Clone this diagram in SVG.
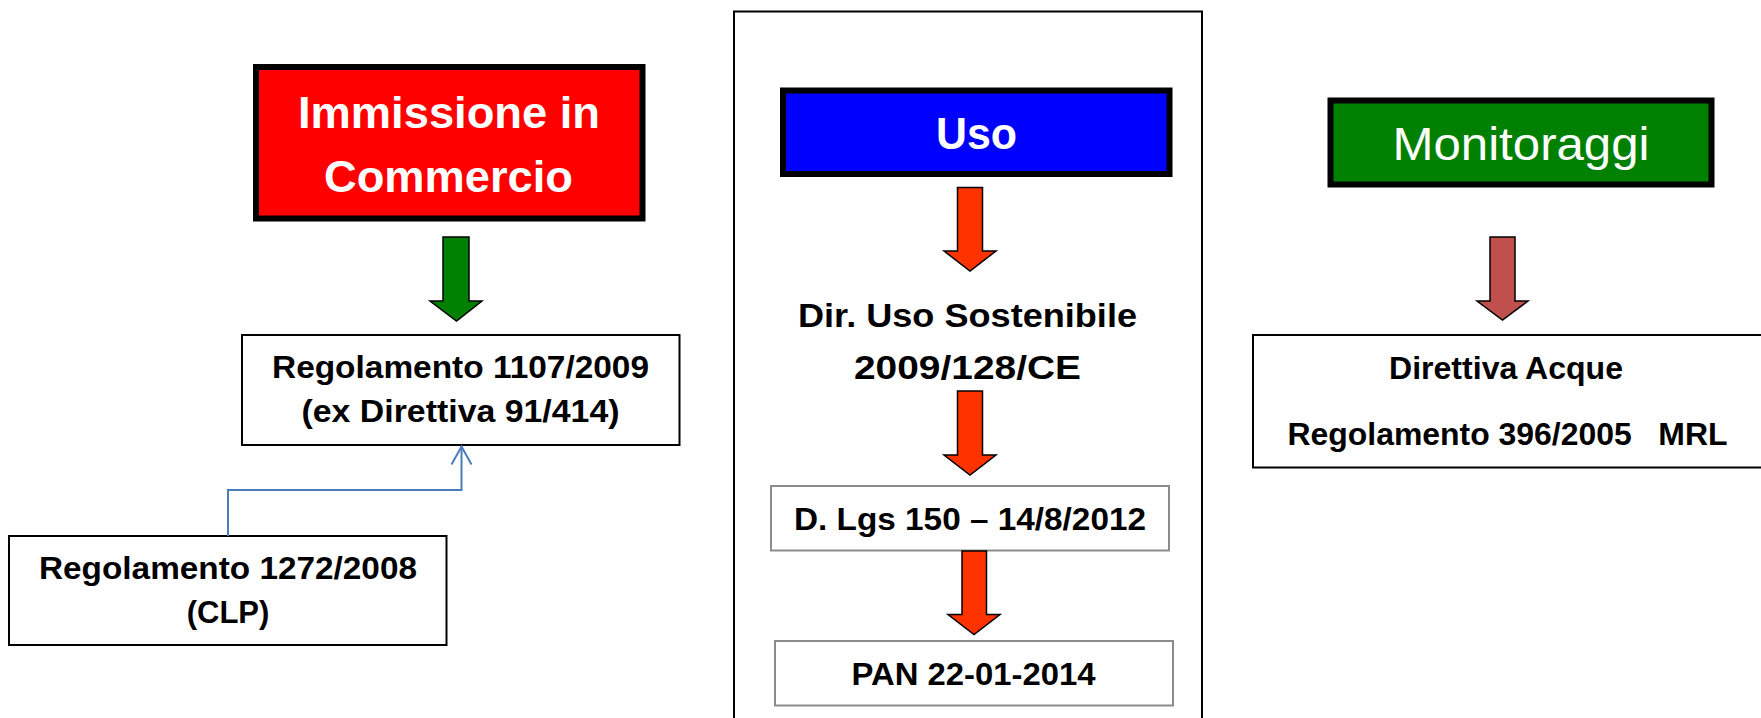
<svg xmlns="http://www.w3.org/2000/svg" width="1761" height="718" viewBox="0 0 1761 718">
<style>
  text { font-family: "Liberation Sans", Arial, sans-serif; text-anchor: middle; }
  .b { font-weight: bold; fill: #000; font-size: 31px; }
  .hdr { font-weight: bold; fill: #fff; font-size: 45px; }
  .hdrr { fill: #fff; font-size: 46px; }
  .thick { stroke: #000; stroke-width: 6; }
  .box { fill: #fff; stroke: #000; stroke-width: 2; }
  .gbox { fill: #fff; stroke: #8c8c8c; stroke-width: 2; }
  .arrow { stroke: #000; stroke-width: 1.5; stroke-linejoin: miter; }
  .conn { fill: none; stroke: #4a7ebb; stroke-width: 2; }
</style>
<defs>
  <marker id="open" markerWidth="24" markerHeight="24" refX="20" refY="12" orient="auto" markerUnits="userSpaceOnUse" viewBox="0 0 24 24">
    <path d="M2,2 L20,12 L2,22" fill="none" stroke="#4a7ebb" stroke-width="2"/>
  </marker>
</defs>
<rect width="1761" height="718" fill="#fff"/>

<g id="uso-frame">
  <rect x="734" y="11.5" width="468" height="720" fill="none" stroke="#000" stroke-width="2"/>
</g>

<g id="immissione">
  <rect x="256" y="67" width="386.5" height="151.5" fill="#ff0000" class="thick"/>
  <text class="hdr" x="449" y="128" textLength="302" lengthAdjust="spacingAndGlyphs">Immissione in</text>
  <text class="hdr" x="448.5" y="192" textLength="249" lengthAdjust="spacingAndGlyphs">Commercio</text>
</g>

<g id="reg1107">
  <rect x="242" y="335" width="437.5" height="110" class="box"/>
  <text class="b" x="460.5" y="378" textLength="377" lengthAdjust="spacingAndGlyphs">Regolamento 1107/2009</text>
  <text class="b" x="460.5" y="421.5" textLength="318" lengthAdjust="spacingAndGlyphs">(ex Direttiva 91/414)</text>
</g>

<g id="reg1272">
  <rect x="9" y="536" width="437.5" height="109" class="box"/>
  <text class="b" x="228" y="579" textLength="378" lengthAdjust="spacingAndGlyphs">Regolamento 1272/2008</text>
  <text class="b" x="228" y="623">(CLP)</text>
</g>

<g id="uso">
  <rect x="783" y="90.5" width="386.5" height="83.5" fill="#0000ff" class="thick"/>
  <text class="hdr" x="976.5" y="149" textLength="81" lengthAdjust="spacingAndGlyphs">Uso</text>
</g>

<g id="dir-uso">
  <text class="b" x="967.5" y="326.5" style="font-size:34px" textLength="339" lengthAdjust="spacingAndGlyphs">Dir. Uso Sostenibile</text>
  <text class="b" x="967.5" y="379" style="font-size:34px" textLength="227" lengthAdjust="spacingAndGlyphs">2009/128/CE</text>
</g>

<g id="dlgs">
  <rect x="771" y="486" width="398" height="64.5" class="gbox"/>
  <text class="b" x="970" y="530" textLength="352" lengthAdjust="spacingAndGlyphs">D. Lgs 150 – 14/8/2012</text>
</g>

<g id="pan">
  <rect x="775" y="641" width="398" height="64.5" class="gbox"/>
  <text class="b" x="973.5" y="685" textLength="244" lengthAdjust="spacingAndGlyphs">PAN 22-01-2014</text>
</g>

<g id="monitoraggi">
  <rect x="1330.5" y="100.5" width="381" height="84" fill="#008000" class="thick"/>
  <text class="hdrr" x="1521" y="160" textLength="257" lengthAdjust="spacingAndGlyphs">Monitoraggi</text>
</g>

<g id="acque">
  <rect x="1253" y="335" width="512" height="132.5" class="box"/>
  <text class="b" x="1506" y="378.5" textLength="234" lengthAdjust="spacingAndGlyphs">Direttiva Acque</text>
  <text class="b" x="1507.5" y="445" xml:space="preserve" style="white-space:pre" textLength="440" lengthAdjust="spacingAndGlyphs">Regolamento 396/2005   MRL</text>
</g>

<g id="connectors">
  <path class="arrow" fill="#008000" d="M443,237 L469,237 L469,301 L482,301 L456.5,321 L430,301 L443,301 Z"/>
  <path class="arrow" fill="#ff3300" d="M957.5,187.5 L982.5,187.5 L982.5,251 L996,251 L970,271 L944,251 L957.5,251 Z"/>
  <path class="arrow" fill="#ff3300" d="M957.5,391 L982.5,391 L982.5,455 L996,455 L970,475 L944,455 L957.5,455 Z"/>
  <path class="arrow" fill="#ff3300" d="M962,551 L986.5,551 L986.5,614.5 L1000,614.5 L974,634.5 L948,614.5 L962,614.5 Z"/>
  <path class="arrow" fill="#c0504d" d="M1490,237 L1515,237 L1515,301 L1528,301 L1502.5,320 L1477,301 L1490,301 Z"/>
  <path class="conn" d="M228,536 L228,490 L461.5,490 L461.5,446.5" marker-end="url(#open)"/>
</g>
</svg>
